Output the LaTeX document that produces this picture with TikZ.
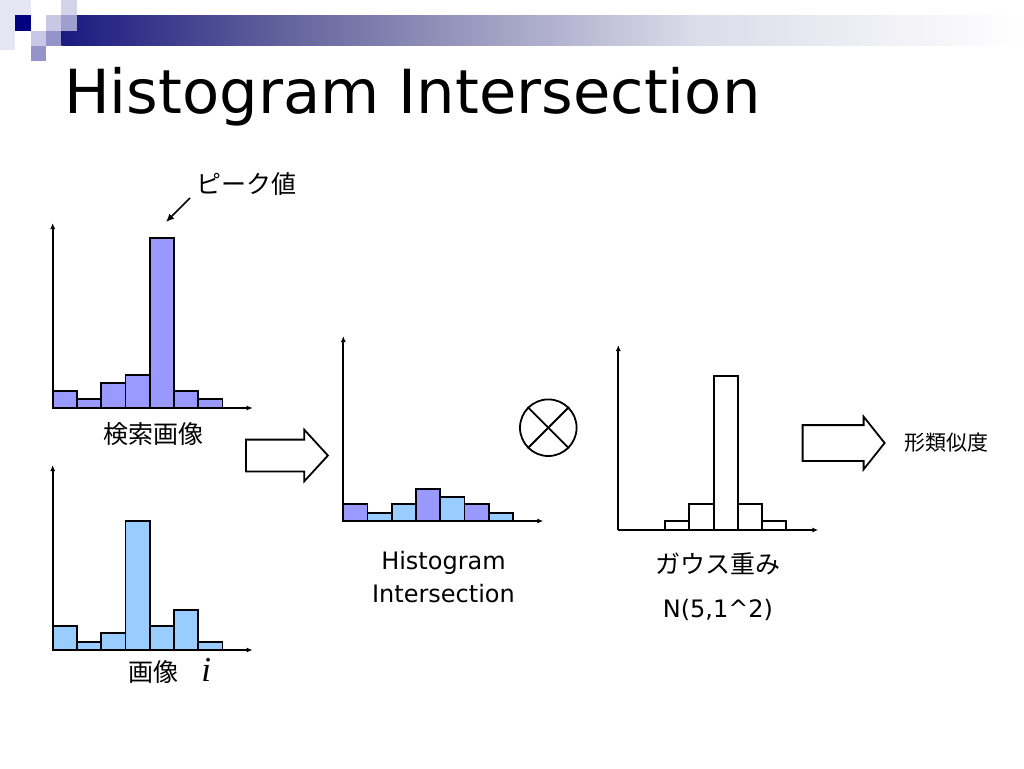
\documentclass[tikz,border=0pt]{standalone}
\usepackage{fontspec}
\setmainfont{DejaVu Sans}
\newfontfamily\jp{Noto Sans CJK JP}
\newfontfamily\serif{Liberation Serif}
\usepackage{tikz}
\usetikzlibrary{positioning}
\usetikzlibrary{shapes.arrows}
\usetikzlibrary{arrows.meta}
\definecolor{qbar}{HTML}{9999FF}
\definecolor{ibar}{HTML}{99CCFF}
\definecolor{navy}{HTML}{000080}
\definecolor{sqpale}{HTML}{E6E6F3}
\definecolor{sqlight}{HTML}{C8C8E4}
\definecolor{sqmid}{HTML}{9494CA}
\definecolor{bandL}{RGB}{26,26,128}
\definecolor{bandM}{RGB}{104,104,160}
\definecolor{bandR}{RGB}{220,220,234}
\pgfdeclarehorizontalshading{band}{100bp}{color(0bp)=(bandL); color(25bp)=(bandL); color(37.5bp)=(bandM); color(58bp)=(bandR); color(75bp)=(white); color(100bp)=(white)}

\begin{document}
\begin{tikzpicture}[x=1pt, y=-1pt]

                \def\w{24.25}

                % Styles for the bars, axes and labels
                \tikzset{
                    axis/.style={line width=1.8pt, -{Latex[length=6pt,width=5pt]}},
                    bar/.style={draw, line width=1.8pt},
                    jlab/.style={font=\jp\fontsize{25}{30}\selectfont, inner sep=0pt},
                    elab/.style={font=\fontsize{24}{33}\selectfont, inner sep=0pt, align=center},
                    blockarrow/.style={single arrow, draw, line width=1.8pt,
                        minimum height=82pt, inner xsep=0pt, anchor=tail}
                }

                \useasboundingbox (0,0) rectangle (1024,768);

                % Slide header
                \begin{scope}
                    \fill[sqpale] (0,0) rectangle (15.3,50);
                    \fill[sqpale] (15.3,0) rectangle (30.6,15.3);
                    \shade[shading=band] (61.3,15.3) rectangle (1024,46);
                    \fill[navy] (15.3,15.3) rectangle (30.6,30.6);
                    \fill[sqlight] (46,15.3) rectangle (61.3,30.6);
                    \fill[sqlight!80] (61.3,0) rectangle (76.6,15.3);
                    \fill[sqmid!90] (61.3,15.3) rectangle (76.6,30.6);
                    \fill[sqlight] (30.6,30.6) rectangle (46,46);
                    \fill[sqmid] (46,30.6) rectangle (61.3,46);
                    \fill[sqmid] (30.6,46) rectangle (46,61.3);
                \end{scope}

                \node[anchor=base west, inner sep=0pt, font=\fontsize{60.8}{72}\selectfont]
                    (title) at (64,113) {Histogram Intersection};

                % Query histogram
                \begin{scope}[shift={(52.7,408)}]
                    \foreach \h [count=\k from 0] in {16.7,9,25,32.7,170,16.7,9}
                        \draw[bar, fill=qbar] (\k*\w,0) rectangle ++(\w,-\h);
                    \coordinate (o1) at (0,0);
                    \coordinate (y1) at (0,-185);
                    \coordinate (x1) at (200,0);
                    \draw[axis] (o1) -- (y1);
                    \draw[axis] (o1) -- (x1);
                \end{scope}

                % Image histogram
                \begin{scope}[shift={(52.7,650)}]
                    \foreach \h [count=\k from 0] in {24.3,7.7,16.7,129.3,24.3,40,8.3}
                        \draw[bar, fill=ibar] (\k*\w,0) rectangle ++(\w,-\h);
                    \coordinate (o2) at (0,0);
                    \coordinate (y2) at (0,-185);
                    \coordinate (x2) at (200,0);
                    \draw[axis] (o2) -- (y2);
                    \draw[axis] (o2) -- (x2);
                \end{scope}

                % Intersection histogram
                \begin{scope}[shift={(343.3,521)}]
                    \foreach \h/\c [count=\k from 0] in {16.7/qbar,8.3/ibar,16.7/ibar,32/qbar,24.3/ibar,16.7/qbar,8.3/ibar}
                        \draw[bar, fill=\c] (\k*\w,0) rectangle ++(\w,-\h);
                    \coordinate (o3) at (0,0);
                    \coordinate (y3) at (0,-185);
                    \coordinate (x3) at (200,0);
                    \draw[axis] (o3) -- (y3);
                    \draw[axis] (o3) -- (x3);
                \end{scope}

                % Gaussian weights
                \begin{scope}[shift={(618.3,530)}]
                    \foreach \h [count=\k from 2] in {9.3,25.7,154.3,25.7,9.3}
                        \draw[bar, fill=white] (-1.7+\k*\w,0) rectangle ++(\w,-\h);
                    \coordinate (o4) at (0,0);
                    \coordinate (y4) at (0,-185);
                    \coordinate (x4) at (200,0);
                    \draw[axis] (o4) -- (y4);
                    \draw[axis] (o4) -- (x4);
                \end{scope}

                % Labels
                \node[jlab] (peak) at (246,184) {ピーク値};
                \coordinate (pkfrom) at (190,198);
                \coordinate (pktip) at (166,222);
                \draw[line width=1.5pt, -{Latex[length=8pt,width=7pt]}] (pkfrom) -- (pktip);

                \node[jlab] (query) at (153,434) {検索画像};
                \node[jlab] (img) at (153,672) {画像};
                \node[font=\serif\itshape\fontsize{35}{40}\selectfont, inner sep=0pt]
                    (idx) [right=23pt of img.base east, anchor=base west] {i};
                \node[elab] (hi) at (443.5,577.5) {Histogram\\Intersection};
                \node[jlab] (gw) at (718,564) {ガウス重み};
                \node[elab] (nrm) [below=24pt of gw] {N(5,1\textasciicircum2)};
                \node[jlab, font=\jp\fontsize{21}{25}\selectfont] (sim) at (946,443) {形類似度};

                % Operators
                \node[blockarrow, inner ysep=15pt, single arrow head extend=10pt,
                    single arrow tip angle=95] (arr1) at (245,455.5) {};
                \node[draw, circle, minimum size=56.6pt, inner sep=0pt, line width=1.8pt]
                    (ot) at (548.3,427.7) {};
                \draw[line width=1.8pt] (ot.45) -- (ot.225);
                \draw[line width=1.8pt] (ot.135) -- (ot.-45);
                \node[blockarrow, inner ysep=17pt, single arrow head extend=8.5pt,
                    single arrow tip angle=103] (arr2) at (801.7,443) {};

\end{tikzpicture}
\end{document}
